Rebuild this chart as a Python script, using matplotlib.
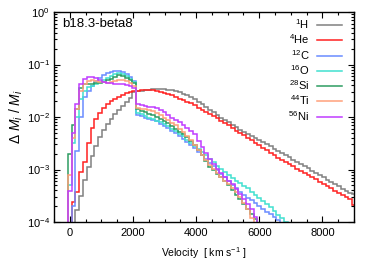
import numpy as np
import matplotlib
matplotlib.use("Agg")
import matplotlib.pyplot as plt
from matplotlib.ticker import LogLocator, MultipleLocator, NullFormatter

plt.rcParams['font.family'] = ['Liberation Sans', 'DejaVu Sans']
plt.rcParams['mathtext.fontset'] = 'custom'
plt.rcParams['mathtext.rm'] = 'Liberation Sans'
plt.rcParams['mathtext.it'] = 'Liberation Sans:italic'
plt.rcParams['mathtext.bf'] = 'Liberation Sans:bold'
plt.rcParams['mathtext.default'] = 'regular'

# velocity bin edges [km/s] (bin centres -120, 0, 120, ..., 9000)
vel_edges = np.arange(-180, 9061, 120)
NB = len(vel_edges) - 1

# log10 of Delta M_i / M_i per velocity bin
log_h1 = [-6, -6, -6, -3.77, -3.5, -3.2, -2.95, -2.75, -2.55, -2.38, -2.25, -2.14, -2.04, -1.95,
          -1.87, -1.79, -1.71, -1.64, -1.53, -1.51, -1.50, -1.49, -1.48, -1.47, -1.47, -1.47,
          -1.47, -1.48, -1.49, -1.51, -1.53, -1.56, -1.59, -1.62, -1.66, -1.71, -1.76, -1.81,
          -1.86, -1.91, -1.96, -2.01, -2.06, -2.10, -2.15, -2.19, -2.24, -2.28, -2.32, -2.36,
          -2.40, -2.44, -2.48, -2.52, -2.56, -2.60, -2.65, -2.69, -2.73, -2.77, -2.81, -2.86,
          -2.90, -2.94, -2.98, -3.03, -3.07, -3.11, -3.15, -3.20, -3.24, -3.28, -3.32, -3.37,
          -3.41, -3.45, -3.47]
log_he4 = [-6, -6, -3.61, -3.42, -3.04, -2.85, -2.5, -2.2, -2.03, -1.92, -1.83, -1.76, -1.70,
           -1.65, -1.61, -1.58, -1.55, -1.53, -1.51, -1.50, -1.49, -1.49, -1.49, -1.49, -1.50,
           -1.52, -1.54, -1.56, -1.59, -1.62, -1.65, -1.68, -1.71, -1.74, -1.78, -1.82, -1.86,
           -1.90, -1.94, -1.98, -2.02, -2.07, -2.11, -2.16, -2.21, -2.26, -2.30, -2.35, -2.40,
           -2.44, -2.49, -2.54, -2.59, -2.63, -2.68, -2.73, -2.78, -2.82, -2.86, -2.90, -2.94,
           -2.99, -3.03, -3.07, -3.11, -3.15, -3.19, -3.24, -3.28, -3.32, -3.36, -3.40, -3.45,
           -3.49, -3.53, -3.57, -3.68]
log_c12 = [-6, -6, -3.7, -2.65, -2.0, -1.62, -1.50, -1.40, -1.31, -1.25, -1.20, -1.17, -1.15,
           -1.13, -1.12, -1.14, -1.18, -1.24, -1.31, -1.96, -1.98, -2.01, -2.03, -2.05, -2.08,
           -2.13, -2.17, -2.21, -2.26, -2.31, -2.36, -2.41, -2.47, -2.53, -2.59, -2.66, -2.73,
           -2.80, -2.87, -2.94, -3.01, -3.08, -3.15, -3.22, -3.29, -3.36, -3.43, -3.48, -3.54,
           -3.59, -3.64, -3.70, -3.75, -3.80, -3.85, -3.90, -3.96, -4.1]
log_o16 = [-6, -3.3, -2.5, -2.0, -1.65, -1.5, -1.43, -1.40, -1.37, -1.33, -1.29, -1.25, -1.22,
           -1.19, -1.17, -1.18, -1.22, -1.27, -1.33, -1.92, -1.95, -1.98, -2.01, -2.04, -2.07,
           -2.10, -2.14, -2.18, -2.22, -2.27, -2.32, -2.37, -2.43, -2.49, -2.55, -2.61, -2.67,
           -2.73, -2.80, -2.86, -2.93, -2.99, -3.05, -3.11, -3.16, -3.21, -3.26, -3.31, -3.36,
           -3.42, -3.48, -3.54, -3.60, -3.66, -3.72, -3.79, -3.86, -3.93, -4.0, -4.3]
log_si28 = [-6, -2.7, -2.15, -1.85, -1.45, -1.38, -1.37, -1.37, -1.36, -1.35, -1.33, -1.30,
            -1.27, -1.23, -1.20, -1.21, -1.25, -1.30, -1.35, -1.85, -1.88, -1.91, -1.94, -1.97,
            -2.00, -2.04, -2.08, -2.12, -2.17, -2.22, -2.28, -2.33, -2.39, -2.46, -2.54, -2.63,
            -2.72, -2.83, -2.95, -3.01, -3.08, -3.15, -3.22, -3.30, -3.39, -3.48, -3.57, -3.66,
            -3.75, -3.85, -3.95, -4.1]
log_ti44 = [-6, -3.1, -2.4, -1.85, -1.5, -1.38, -1.32, -1.30, -1.31, -1.33, -1.34, -1.35, -1.34,
            -1.32, -1.30, -1.30, -1.32, -1.36, -1.40, -1.82, -1.84, -1.85, -1.86, -1.88, -1.92,
            -1.96, -2.01, -2.06, -2.11, -2.16, -2.22, -2.29, -2.36, -2.44, -2.53, -2.63, -2.73,
            -2.82, -2.91, -2.99, -3.07, -3.14, -3.21, -3.28, -3.35, -3.43, -3.52, -3.63, -3.76,
            -3.92, -4.2]
log_ni56 = [-6, -3.4, -2.3, -1.75, -1.38, -1.27, -1.24, -1.23, -1.26, -1.30, -1.33, -1.35, -1.36,
            -1.37, -1.37, -1.38, -1.39, -1.41, -1.44, -1.75, -1.77, -1.79, -1.80, -1.81, -1.83,
            -1.86, -1.91, -1.96, -2.01, -2.06, -2.10, -2.15, -2.21, -2.27, -2.33, -2.45, -2.57,
            -2.68, -2.80, -2.90, -2.99, -3.07, -3.14, -3.21, -3.28, -3.38, -3.47, -3.56, -3.66,
            -3.76, -3.9, -4.2]

species = [r'$^{1}$H', r'$^{4}$He', r'$^{12}$C', r'$^{16}$O', r'$^{28}$Si', r'$^{44}$Ti', r'$^{56}$Ni']
series = [log_h1, log_he4, log_c12, log_o16, log_si28, log_ti44, log_ni56]
colors = ['#808080', '#ff2020', '#6a8cff', '#40e0d0', '#2e9d62', '#ffa07a', '#c03cff']


def to_values(logs):
    arr = np.full(NB, -6.0)  # empty bins (no mass) below plotted range
    arr[:len(logs)] = logs
    return 10.0 ** arr


fig = plt.figure(figsize=(3.82, 2.67), dpi=100)
ax = fig.add_axes([54 / 382, 45 / 267, 300 / 382, 210 / 267])

handles = []
for lab, logs, col in zip(species, series, colors):
    ax.stairs(to_values(logs), vel_edges, baseline=None, color=col, lw=1.1, label=lab)
    handles.append(plt.Line2D([], [], color=col, lw=1.1))

ax.set_yscale('log')
ax.set_xlim(-500, 9000)
ax.set_ylim(1e-4, 1)

ax.xaxis.set_major_locator(MultipleLocator(2000))
ax.xaxis.set_minor_locator(MultipleLocator(500))
ax.yaxis.set_major_locator(LogLocator(base=10, numticks=10))
ax.yaxis.set_minor_locator(LogLocator(base=10, subs=np.arange(2, 10), numticks=20))
ax.yaxis.set_minor_formatter(NullFormatter())

ax.tick_params(which='both', direction='in', top=True, right=True, labelsize=8, width=0.8)
ax.tick_params(which='major', length=4.5)
ax.tick_params(which='minor', length=2.5)
ax.tick_params(axis='x', pad=4.5)
ax.tick_params(axis='y', pad=3)
for s in ax.spines.values():
    s.set_linewidth(1.0)

ax.set_xlabel(r'Velocity  [ km s$^{-1}$ ]', fontsize=7.5, labelpad=5)
ax.set_ylabel(r'$\Delta$ $\mathit{M_i}$ / $\mathit{M_i}$', fontsize=10, labelpad=1)

ax.text(0.027, 0.943, 'b18.3-beta8', transform=ax.transAxes, fontsize=9.5, va='center', ha='left')

leg = ax.legend(handles, species, loc='upper right', bbox_to_anchor=(0.96, 0.975),
                frameon=False, markerfirst=False, fontsize=8, handlelength=2.25,
                handletextpad=0.7, labelspacing=0.13, borderaxespad=0.0, borderpad=0.0)

fig.savefig('out.png', dpi=100)
